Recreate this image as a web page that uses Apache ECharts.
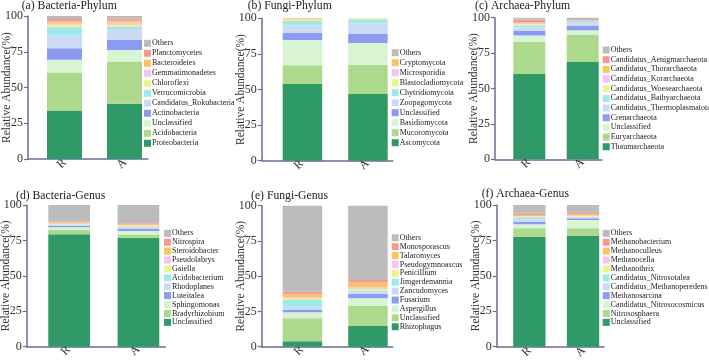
<!DOCTYPE html>
<html><head><meta charset="utf-8">
<script src="https://cdn.jsdelivr.net/npm/echarts@6/dist/echarts.min.js"></script>
<style>html,body{margin:0;padding:0;background:#fff}#c{width:709px;height:361px}</style>
</head><body><div id="c"></div>
<script>
const categories = ['R', 'A'];
const yTicks = [0, 25, 50, 75, 100];

// (a) Bacteria-Phylum (bottom -> top)
const bacPhylumNames = ['Proteobacteria','Acidobacteria','Unclassified','Actinobacteria','Candidatus_Rokubacteria','Verrucomicrobia','Chloroflexi','Gemmatimonadetes','Bacteroidetes','Planctomycetes','Others'];
const bacPhylumR = [34.0,26.5,8.9,8.0,8.8,5.9,1.8,1.2,1.3,1.5,2.1];
const bacPhylumA = [38.6,29.5,8.2,7.3,7.3,1.4,1.4,1.6,1.4,1.3,2.0];

// (b) Fungi-Phylum
const fungPhylumNames = ['Ascomycota','Mucoromycota','Basidiomycota','Unclassified','Zoopagomycota','Chytridiomycota','Blastocladiomycota','Microsporidia','Cryptomycota','Others'];
const fungPhylumR = [53.9,13.1,17.8,4.9,5.4,3.0,0.9,0.2,0.6,0.2];
const fungPhylumA = [46.8,20.4,15.5,6.3,7.5,2.8,0.5,0.1,0.05,0.05];

// (c) Archaea-Phylum
const archPhylumNames = ['Thaumarchaeota','Euryarchaeota','Unclassified','Crenarchaeota','Candidatus_Thermoplasmatota','Candidatus_Bathyarchaeota','Candidatus_Woesearchaeota','Candidatus_Korarchaeota','Candidatus_Thorarchaeota','Candidatus_Aenigmarchaeota','Others'];
const archPhylumR = [60.2,22.6,4.7,3.1,2.5,1.5,0.8,0.5,0.5,2.2,1.4];
const archPhylumA = [68.7,19.3,3.1,3.0,2.3,1.2,0.2,0.1,0.1,0.3,1.7];

// (d) Bacteria-Genus
const bacGenusNames = ['Unclassified','Bradyrhizobium','Sphingomonas','Luteitalea','Rhodoplanes','Acidobacterium','Gaiella','Pseudolabrys','Steroidobacter','Nitrospira','Others'];
const bacGenusR = [79.3,3.1,1.9,0.9,0.8,0.4,0.3,0.2,0.7,0.6,11.8];
const bacGenusA = [76.9,2.2,2.5,1.5,1.3,0.5,0.4,0.3,0.8,0.7,12.9];

// (e) Fungi-Genus
const fungGenusNames = ['Rhizophagus','Unclassified','Aspergillus','Fusarium','Zancudomyces','Jimgerdemannia','Penicillium','Pseudogymnoascus','Talaromyces','Monosporascus','Others'];
const fungGenusR = [3.8,16.3,4.3,1.6,2.4,4.7,1.0,0.9,2.2,1.8,61.0];
const fungGenusA = [14.7,14.4,5.2,3.2,1.5,0.8,1.2,1.4,3.0,1.9,52.7];

// (f) Archaea-Genus
const archGenusNames = ['Unclassified','Nitrososphaera','Candidatus_Nitrosocosmicus','Methanosarcina','Candidatus_Methanoperedens','Candidatus_Nitrosotalea','Methanothrix','Methanocella','Methanoculleus','Methanobacterium','Others'];
const archGenusR = [77.6,6.0,2.8,1.8,1.7,1.4,0.5,0.4,0.7,1.2,5.9];
const archGenusA = [78.3,5.3,5.8,1.2,0.7,0.4,0.5,0.5,0.9,1.2,5.2];

const titles = ['(a) Bacteria-Phylum','(b) Fungi-Phylum','(c) Archaea-Phylum','(d) Bacteria-Genus','(e) Fungi-Genus','(f) Archaea-Genus'];

// styling / layout
const palette = ['#2f9a68','#acd98b','#d8f4d3','#8c9bf2','#ccdaf6','#9fe9eb','#eef38e','#f8c2f3','#f9c55f','#f59a93'];
const grayC = '#bcbcbc';
const axisC = '#6b6b9a';
const FONT = 'Liberation Serif, Times New Roman, serif';

const panels = [
  {key:'a', names:bacPhylumNames, R:bacPhylumR, A:bacPhylumA, left:28, top:16, y0:159, band:60, shift:6.5, barW:35, tx:21.7, ty:0, lx:144, ly:38.3, lh:10},
  {key:'b', names:fungPhylumNames, R:fungPhylumR, A:fungPhylumA, left:261.7, top:18.3, y0:160.7, band:65.5, shift:8, barW:39.5, tx:247.7, ty:0, lx:391.7, ly:47.7, lh:10},
  {key:'c', names:archPhylumNames, R:archPhylumR, A:archPhylumA, left:495, top:17.7, y0:159.3, band:53.4, shift:7.6, barW:32, tx:475, ty:0, lx:602.7, ly:45.2, lh:9.67},
  {key:'d', names:bacGenusNames, R:bacGenusR, A:bacGenusA, left:26.7, top:205, y0:346.7, band:69.3, shift:7.8, barW:41.7, tx:16, ty:189.5, lx:164, ly:228.9, lh:8.9},
  {key:'e', names:fungGenusNames, R:fungGenusR, A:fungGenusA, left:261.7, top:205.7, y0:346.7, band:65.5, shift:8, barW:39.5, tx:251, ty:189.5, lx:391.7, ly:233.3, lh:8.9},
  {key:'f', names:archGenusNames, R:archGenusR, A:archGenusA, left:496.7, top:205, y0:346.7, band:53.7, shift:5.8, barW:32.3, tx:481.7, ty:188, lx:602.7, ly:228.9, lh:8.9}
];

const option = {
  backgroundColor: '#fff',
  animation: false,
  title: [], grid: [], xAxis: [], yAxis: [], legend: [], series: []
};

panels.forEach((p, i) => {
  const gapPct = ((2 * p.shift - 1) * 100) + '%';
  const lp = 2 * (p.shift + 1) / Math.SQRT2; // label padding to follow the bars
  option.title.push({text: titles[i], left: p.tx, top: p.ty, padding: 0,
    textStyle: {fontFamily: FONT, fontSize: 11.7, fontWeight: 'normal', color: '#222'}});
  option.grid.push({left: p.left, top: p.top, width: p.band * 2, height: p.y0 - p.top, outerBoundsMode: 'none', containLabel: false});
  option.xAxis.push({type: 'category', gridIndex: i, data: categories,
    axisLine: {lineStyle: {color: axisC, width: 1.5}}, axisTick: {show: false},
    axisLabel: {rotate: 45, margin: 8.5, align: 'center', verticalAlign: 'middle', padding: [lp, 0, 0, lp],
      fontFamily: FONT, fontSize: 12, color: '#333'}});
  option.yAxis.push({type: 'value', gridIndex: i, min: yTicks[0], max: yTicks[yTicks.length - 1], interval: 25,
    axisLine: {show: true, lineStyle: {color: axisC, width: 1.5}},
    axisTick: {show: true, length: 4, lineStyle: {color: axisC, width: 1.2}},
    axisLabel: {margin: 5, fontFamily: FONT, fontSize: 12, color: '#333'},
    splitLine: {show: false},
    name: 'Relative Abundance(%)', nameLocation: 'middle', nameGap: 15, nameMoveOverlap: false,
    nameTextStyle: {fontFamily: FONT, fontSize: 11.5, color: '#333'}});
  // spacer series to position bars inside category band
  option.series.push({type: 'bar', name: p.key + '|spacer', xAxisIndex: i, yAxisIndex: i, stack: p.key + 'spacer',
    barWidth: 1, barGap: gapPct, data: ['-', '-'], silent: true});
  const n = p.names.length;
  p.names.forEach((nm, j) => {
    const color = (j === n - 1) ? grayC : palette[j];
    option.series.push({type: 'bar', name: p.key + '|' + nm, xAxisIndex: i, yAxisIndex: i, stack: p.key + 'main',
      barWidth: p.barW, barGap: gapPct, itemStyle: {color: color}, data: [p.R[j], p.A[j]], silent: true});
  });
  option.legend.push({orient: 'vertical', left: p.lx, top: p.ly, padding: 0, itemGap: 0, itemWidth: 7, itemHeight: 7,
    icon: 'rect', selectedMode: false, data: p.names.slice().reverse().map(nm => p.key + '|' + nm),
    formatter: nm => nm.split('|')[1],
    textStyle: {fontFamily: FONT, fontSize: 8, color: '#222', lineHeight: p.lh, padding: [0, 0, 0, -4]}});
});

const chart = echarts.init(document.getElementById('c'), null, {renderer: 'canvas'});
chart.setOption(option);
</script>
</body></html>
